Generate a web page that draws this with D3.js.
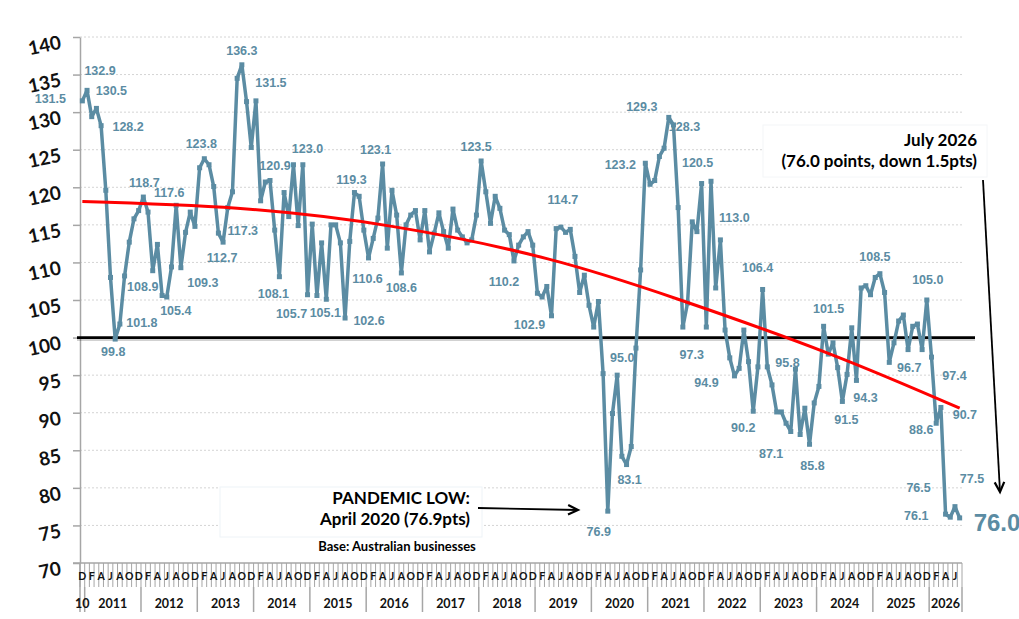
<!DOCTYPE html>
<html>
<head>
<meta charset="utf-8">
<script src="https://cdn.jsdelivr.net/npm/d3@7"></script>
<style>
  body { margin: 0; background: #fff; }
</style>
</head>
<body>
<script>
// monthly index values, Dec 2010 .. Jul 2026
var values = [
    131.5,
    132.9, 129.4, 130.5, 128.2, 119.6, 108.0, 99.8, 101.8, 108.2, 112.7, 115.8, 116.9,
    118.7, 116.7, 108.9, 112.4, 105.6, 105.4, 109.4, 117.6, 109.3, 114.0, 116.7, 114.8,
    122.6, 123.8, 123.0, 120.1, 113.9, 112.7, 117.3, 119.4, 134.5, 136.3, 131.4, 125.3,
    131.5, 118.2, 120.7, 120.9, 114.3, 108.1, 119.3, 116.1, 123.0, 114.9, 123.0, 105.7,
    115.1, 105.6, 112.6, 105.1, 115.0, 115.0, 112.6, 102.6, 112.8, 119.3, 118.8, 114.3,
    110.6, 113.2, 115.9, 123.1, 111.9, 119.6, 116.3, 108.6, 115.0, 116.3, 116.9, 113.0,
    116.9, 111.4, 113.9, 116.6, 114.1, 111.9, 117.1, 114.3, 113.4, 112.6, 113.0, 116.3,
    123.5, 119.4, 115.2, 118.8, 117.2, 114.3, 113.7, 110.2, 112.3, 113.4, 114.1, 112.3,
    105.9, 105.4, 106.8, 102.9, 114.5, 114.7, 114.0, 114.4, 110.8, 106.0, 108.3, 104.3,
    101.4, 104.8, 95.2, 76.9, 89.9, 95.0, 84.2, 83.1, 85.5, 98.6, 109.0, 123.2,
    120.4, 120.9, 124.1, 125.2, 129.3, 128.3, 117.3, 101.4, 104.6, 115.4, 114.1, 120.5,
    101.4, 120.8, 106.6, 113.0, 101.0, 97.3, 94.9, 95.9, 101.0, 96.8, 90.2, 96.1,
    106.4, 96.1, 93.7, 90.1, 90.1, 88.6, 87.5, 95.8, 87.1, 90.6, 85.8, 91.3,
    93.5, 101.5, 97.8, 99.3, 96.0, 91.5, 95.1, 101.3, 94.3, 106.6, 106.9, 105.7,
    108.0, 108.5, 106.0, 96.7, 99.3, 102.2, 103.0, 98.4, 101.5, 101.8, 98.4, 105.0,
    97.4, 88.6, 90.7, 76.5, 76.1, 77.5, 76.0
];

// trend line
var trendIdx = [0, 33, 66, 99, 127, 159, 187];
var trendVals = [118.1, 117.2, 114.8, 110.5, 105.1, 97.9, 90.6];

var refValue = 100;
var yTicks = d3.range(70, 141, 5);
var monthLetters = ['J', 'F', 'M', 'A', 'M', 'J', 'J', 'A', 'S', 'O', 'N', 'D'];
var startYear = 2010, startMonth = 11;

// labelled points and where their labels sit
var labelIdx = [0, 1, 3, 4, 7, 8, 15, 13, 20, 18, 21, 26, 30, 31, 34, 37, 40, 45, 42, 48,
    52, 58, 64, 61, 56, 68, 85, 92, 100, 102, 114, 112, 116, 120, 125, 126, 132, 136,
    138, 139, 143, 145, 152, 153, 155, 158, 162, 165, 170, 172, 180, 181, 182, 183,
    184, 185, 186];
var labelOffsets = [[-32,-2],[13,-19],[15,-17],[27,1],[-2,13],[22,-1],[-10,16],[1,-14],
    [-7,-12],[9,14],[22,15],[-3,-15],[-1,16],[15,23],[0,-14],[15,-18],[5,-15],[14,-16],
    [-6,17],[-16,19],[-1,14],[-3,-13],[-7,-14],[-1,21],[24,3],[0,15],[-5,-14],[-10,21],
    [-22,9],[2,-27],[5,-17],[-9,21],[3,15],[-25,2],[-27,-10],[11,2],[-4,-21],[14,-22],
    [-38,-3],[-28,7],[-10,17],[-5,-21],[-8,-6],[-29,19],[3,22],[5,-17],[4,19],[9,18],
    [-5,-17],[20,6],[1,-20],[23,19],[-15,7],[24,8],[-27,-26],[-34,-1],[17,-28]];

// colours
var colorLine = '#5b8ca3',
    colorAxis = '#a6a6a6',
    colorGrid = '#d4d4d4';

var svg = d3.select('body')
    .append('svg')
    .attr('width', 1019)
    .attr('height', 619);

var x = d3.scaleBand()
    .domain(d3.range(values.length))
    .range([80, 962]);
var cx = function (i) { return x(i) + x.bandwidth() / 2; };
var y = d3.scaleLinear().domain([70, 140]).range([563, 37]);

function monthOf(i) { return (startMonth + i) % 12; }
function yearOf(i) { return startYear + Math.floor((startMonth + i) / 12); }

// gridlines
svg.append('g').selectAll('line').data(yTicks.slice(1)).enter().append('line')
    .attr('x1', 80).attr('x2', 962)
    .attr('y1', function (d) { return y(d); })
    .attr('y2', function (d) { return y(d); })
    .attr('stroke', colorGrid)
    .attr('stroke-dasharray', '2,2');

// annotation boxes (white, cover the grid)
svg.append('rect')
    .attr('x', 220).attr('y', 487).attr('width', 262).attr('height', 50)
    .attr('fill', '#fff').attr('stroke', '#eef3f7');
svg.append('rect')
    .attr('x', 763).attr('y', 125).attr('width', 224).attr('height', 52)
    .attr('fill', '#fff').attr('stroke', '#f4f6f8');

// y axis
var yAxis = svg.append('g')
    .attr('transform', 'translate(80,0)')
    .call(d3.axisLeft(y).tickValues(yTicks).tickSize(7).tickSizeOuter(0));
yAxis.select('.domain').attr('stroke', colorAxis).attr('stroke-width', 1.5);
yAxis.selectAll('.tick line').attr('stroke', colorAxis).attr('stroke-width', 1.5);
yAxis.selectAll('.tick text')
    .attr('x', 0).attr('dy', null)
    .attr('transform', 'translate(-18,11) rotate(-12)')
    .attr('font-family', 'Lato, sans-serif')
    .attr('font-weight', 'bold')
    .attr('font-size', 19)
    .attr('fill', '#111');

// y axis line continues down through the category rows
svg.append('line')
    .attr('x1', 80).attr('x2', 80).attr('y1', 563).attr('y2', 612)
    .attr('stroke', colorAxis).attr('stroke-width', 1.5);

// x axis
svg.append('line')
    .attr('x1', 73).attr('x2', 962).attr('y1', 563).attr('y2', 563)
    .attr('stroke', colorAxis).attr('stroke-width', 1.5);

var boundaries = d3.range(values.length + 1);
svg.append('g').selectAll('line').data(boundaries).enter().append('line')
    .attr('x1', function (k) { return 80 + k * x.bandwidth(); })
    .attr('x2', function (k) { return 80 + k * x.bandwidth(); })
    .attr('y1', 563).attr('y2', 587)
    .attr('stroke', colorAxis).attr('stroke-width', 1);

// month letters every second month
svg.append('g').selectAll('text')
    .data(d3.range(values.length).filter(function (i) { return monthOf(i) % 2 === 1; }))
    .enter().append('text')
    .attr('x', function (i) { return cx(i); })
    .attr('y', 580)
    .attr('text-anchor', 'middle')
    .attr('font-family', 'Lato, sans-serif')
    .attr('font-weight', 'bold')
    .attr('font-size', 10.5)
    .attr('fill', '#111')
    .text(function (i) { return monthLetters[monthOf(i)]; });

// year separators
var yearStarts = d3.range(values.length).filter(function (i) { return monthOf(i) === 0; });
svg.append('g').selectAll('line').data(yearStarts.concat([values.length])).enter().append('line')
    .attr('x1', function (i) { return 80 + i * x.bandwidth(); })
    .attr('x2', function (i) { return 80 + i * x.bandwidth(); })
    .attr('y1', 587).attr('y2', 612)
    .attr('stroke', colorAxis).attr('stroke-width', 1.5);

// year labels
var years = d3.groups(d3.range(values.length), yearOf);
svg.append('g').selectAll('text').data(years).enter().append('text')
    .attr('x', function (d) {
        var idx = d[1];
        return (x(idx[0]) + x(idx[idx.length - 1]) + x.bandwidth()) / 2;
    })
    .attr('y', 608)
    .attr('text-anchor', 'middle')
    .attr('font-family', 'Lato, sans-serif')
    .attr('font-weight', 'bold')
    .attr('font-size', 12.5)
    .attr('fill', '#111')
    .text(function (d) { return d[0] === startYear ? String(d[0]).slice(2) : d[0]; });

// reference line at 100
svg.append('line')
    .attr('x1', 77).attr('x2', 975)
    .attr('y1', y(refValue) + 2).attr('y2', y(refValue) + 2)
    .attr('stroke', '#000').attr('stroke-opacity', 0.18).attr('stroke-width', 3);
svg.append('line')
    .attr('x1', 77).attr('x2', 975)
    .attr('y1', y(refValue)).attr('y2', y(refValue))
    .attr('stroke', '#000').attr('stroke-width', 2.8);

// data line
var line = d3.line()
    .x(function (d, i) { return cx(i); })
    .y(function (d) { return y(d); });
svg.append('path')
    .datum(values)
    .attr('d', line)
    .attr('fill', 'none')
    .attr('stroke', colorLine)
    .attr('stroke-width', 3.5)
    .attr('stroke-linejoin', 'round');

svg.append('g').selectAll('rect').data(values).enter().append('rect')
    .attr('x', function (d, i) { return cx(i) - 2.5; })
    .attr('y', function (d) { return y(d) - 2.5; })
    .attr('width', 5).attr('height', 5)
    .attr('fill', colorLine);

// trend line
var trend = d3.line()
    .curve(d3.curveNatural)
    .x(function (d) { return cx(d); })
    .y(function (d, i) { return y(trendVals[i]); });
svg.append('path')
    .datum(trendIdx)
    .attr('d', trend)
    .attr('fill', 'none')
    .attr('stroke', '#ff0000')
    .attr('stroke-width', 3);

// data labels
svg.append('g').selectAll('text').data(labelIdx).enter().append('text')
    .attr('x', function (d, k) { return cx(d) + labelOffsets[k][0]; })
    .attr('y', function (d, k) { return y(values[d]) + labelOffsets[k][1]; })
    .attr('text-anchor', 'middle')
    .attr('dominant-baseline', 'central')
    .attr('font-family', '"Liberation Sans", Arial, sans-serif')
    .attr('font-weight', 'bold')
    .attr('font-size', 12.5)
    .attr('fill', colorLine)
    .text(function (d) { return values[d].toFixed(1); });

// latest value, large
var last = values.length - 1;
svg.append('text')
    .attr('x', cx(last) + 14)
    .attr('y', y(values[last]) + 13)
    .attr('font-family', '"Liberation Sans", Arial, sans-serif')
    .attr('font-weight', 'bold')
    .attr('font-size', 24)
    .attr('fill', colorLine)
    .text(values[last].toFixed(1));

// annotations
function note(lines, xPos, yPos, step) {
    svg.append('g').selectAll('text').data(lines).enter().append('text')
        .attr('x', xPos)
        .attr('y', function (d, i) { return yPos + i * step; })
        .attr('text-anchor', 'end')
        .attr('font-family', 'Lato, sans-serif')
        .attr('font-weight', 'bold')
        .attr('font-size', 17)
        .attr('fill', '#000')
        .text(function (d) { return d; });
}
note(['July 2026', '(76.0 points, down 1.5pts)'], 977, 146, 21);
note(['PANDEMIC LOW:', 'April 2020 (76.9pts)'], 470, 504, 21);

svg.append('text')
    .attr('x', 397).attr('y', 551)
    .attr('text-anchor', 'middle')
    .attr('font-family', 'Lato, sans-serif')
    .attr('font-weight', 'bold')
    .attr('font-size', 13)
    .attr('fill', '#000')
    .text('Base: Australian businesses');

// arrows
function arrow(x1, y1, x2, y2) {
    var a = Math.atan2(y2 - y1, x2 - x1), len = 11, spread = 0.45;
    svg.append('line')
        .attr('x1', x1).attr('y1', y1).attr('x2', x2).attr('y2', y2)
        .attr('stroke', '#000').attr('stroke-width', 1.8);
    svg.append('path')
        .attr('d', 'M' + (x2 - len * Math.cos(a - spread)) + ',' + (y2 - len * Math.sin(a - spread)) +
            'L' + x2 + ',' + y2 +
            'L' + (x2 - len * Math.cos(a + spread)) + ',' + (y2 - len * Math.sin(a + spread)))
        .attr('fill', 'none')
        .attr('stroke', '#000')
        .attr('stroke-width', 2.2);
}
arrow(478, 508, 578, 510);
arrow(983, 180, 1000, 492);
</script>
</body>
</html>
